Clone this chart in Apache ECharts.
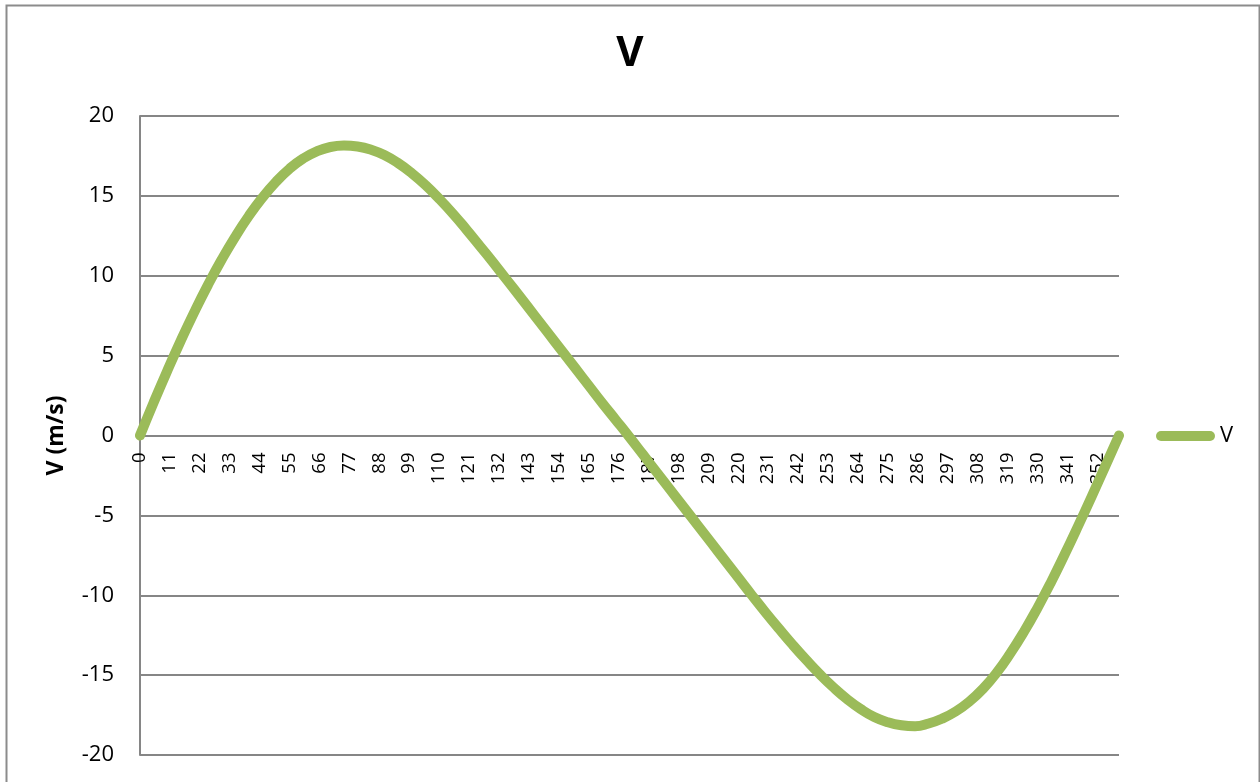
<!DOCTYPE html>
<html>
<head>
<meta charset="utf-8">
<title>V</title>
<script src="https://cdn.jsdelivr.net/npm/echarts@6/dist/echarts.min.js"></script>
<style>
  html, body { margin: 0; padding: 0; background: #ffffff; }
  #chart { width: 1260px; height: 782px; }
</style>
</head>
<body>
<div id="chart"></div>
<script>
// Crank angle (degrees), sampled every 5 degrees
const angles = [0, 5, 10, 15, 20, 25, 30, 35, 40, 45, 50, 55, 60, 65, 70, 75, 80, 85, 90,
                95, 100, 105, 110, 115, 120, 125, 130, 135, 140, 145, 150, 155, 160, 165, 170, 175, 180,
                185, 190, 195, 200, 205, 210, 215, 220, 225, 230, 235, 240, 245, 250, 255, 260, 265, 270,
                275, 280, 285, 290, 295, 300, 305, 310, 315, 320, 325, 330, 335, 340, 345, 350, 355, 360];
// Velocity (m/s) at each angle
const speeds = [0, 2.06, 4.04, 5.94, 7.74, 9.43, 11.0, 12.44, 13.74, 14.89, 15.88, 16.70, 17.34, 17.79, 18.06, 18.15, 18.09, 17.89, 17.54,
                17.04, 16.41, 15.67, 14.82, 13.9, 12.9, 11.86, 10.8, 9.72, 8.63, 7.53, 6.43, 5.33, 4.23, 3.13, 2.03, 0.97, -0.1,
                -1.2, -2.3, -3.4, -4.5, -5.6, -6.7, -7.8, -8.9, -10.0, -11.07, -12.1, -13.1, -14.05, -14.95, -15.77, -16.5, -17.12, -17.62,
                -17.95, -18.14, -18.2, -18.03, -17.72, -17.27, -16.65, -15.85, -14.85, -13.65, -12.3, -10.8, -9.18, -7.45, -5.65, -3.8, -1.9, 0];
const seriesName = 'V';
const chartTitle = 'V';
const yAxisTitle = 'V (m/s)';

const points = angles.map((a, i) => [a, speeds[i]]);

const FONT = '"Open Sans", "Liberation Sans", sans-serif';
const GRID_COLOR = '#868686';
const LINE_COLOR = '#9BBB59';

// plot rectangle
const GRID_TOP = 116;
const GRID_BOTTOM = 27;
const Y_MIN = -20, Y_MAX = 20;
const plotHeight = 782 - GRID_TOP - GRID_BOTTOM;
// lift the angle axis from the bottom edge up to the zero line
const zeroOffset = -plotHeight * (0 - Y_MIN) / (Y_MAX - Y_MIN);

// thick legend stroke with rounded ends
const LEGEND_ICON = 'path://M5,0 L54,0 A5,5 0 0 1 54,10 L5,10 A5,5 0 0 1 5,0 Z';

const chart = echarts.init(document.getElementById('chart'), null, { renderer: 'canvas' });

chart.setOption({
  backgroundColor: '#ffffff',
  animation: false,
  title: {
    text: chartTitle,
    left: 'center',
    top: 28,
    textStyle: { fontFamily: FONT, fontSize: 42, fontWeight: 'bold', color: '#000000' }
  },
  legend: {
    data: [{ name: seriesName, icon: LEGEND_ICON }],
    left: 1156,
    top: 425,
    padding: 0,
    itemWidth: 59,
    itemHeight: 10,
    itemGap: 0,
    textStyle: { fontFamily: FONT, fontSize: 22, lineHeight: 22, color: '#000000' }
  },
  grid: { left: 140, right: 141, top: GRID_TOP, bottom: GRID_BOTTOM, containLabel: false, outerBoundsMode: 'none' },
  xAxis: {
    type: 'value',
    min: 0,
    max: 360,
    interval: 11,
    offset: zeroOffset,
    axisLine: { onZero: false, lineStyle: { color: GRID_COLOR, width: 2 } },
    axisTick: { show: false },
    splitLine: { show: false },
    axisLabel: {
      rotate: 90,
      margin: 17,
      showMaxLabel: false,
      fontFamily: FONT,
      fontSize: 18.5,
      color: '#000000'
    }
  },
  yAxis: {
    type: 'value',
    min: Y_MIN,
    max: Y_MAX,
    interval: 5,
    name: yAxisTitle,
    nameLocation: 'middle',
    nameGap: 72,
    nameTextStyle: { fontFamily: FONT, fontSize: 23, fontWeight: 'bold', color: '#000000' },
    axisLine: { show: true, lineStyle: { color: GRID_COLOR, width: 2 } },
    axisTick: { show: false },
    splitLine: { show: true, lineStyle: { color: GRID_COLOR, width: 2 } },
    axisLabel: { margin: 26, fontFamily: FONT, fontSize: 22, color: '#000000' }
  },
  series: [{
    name: seriesName,
    type: 'line',
    data: points,
    smooth: 0.5,
    showSymbol: false,
    clip: false,
    itemStyle: { color: LINE_COLOR },
    lineStyle: { color: LINE_COLOR, width: 10, cap: 'round', join: 'round' }
  }],
  graphic: [{
    type: 'rect',
    left: 4,
    top: 3,
    shape: { width: 1253, height: 800 },
    style: { fill: 'none', stroke: '#8c8c8c', lineWidth: 2 },
    silent: true,
    z: 100
  }]
});
</script>
</body>
</html>
